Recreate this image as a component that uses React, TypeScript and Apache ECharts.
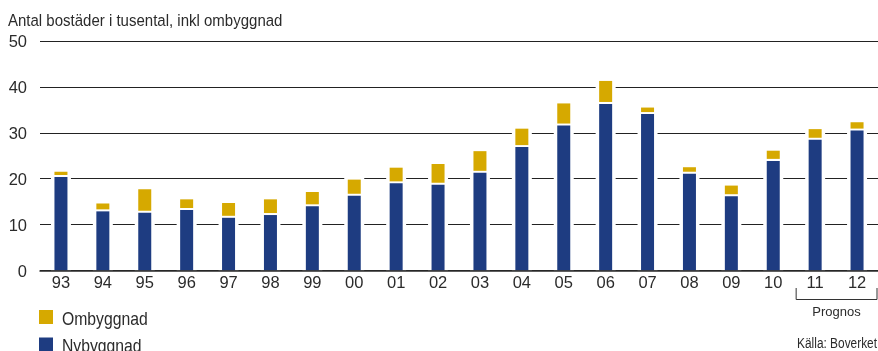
import React, { useEffect, useRef } from "react";
import * as echarts from "echarts";

// Färdigställda bostäder per år, tusental
const years = ["93", "94", "95", "96", "97", "98", "99", "00", "01", "02", "03", "04", "05", "06", "07", "08", "09", "10", "11", "12"];
const nybyggnad = [20.6, 13.1, 12.8, 13.4, 11.7, 12.3, 14.2, 16.5, 19.2, 18.9, 21.5, 27.1, 31.8, 36.5, 34.3, 21.3, 16.4, 24.1, 28.7, 30.7];
const ombyggnad = [0.9, 1.5, 4.9, 2.1, 3.0, 3.2, 2.9, 3.3, 3.2, 4.3, 4.5, 3.8, 4.6, 4.8, 1.2, 1.2, 2.1, 2.0, 2.1, 1.6];
const yTicks = [0, 10, 20, 30, 40, 50];
const prognosYears = ["11", "12"];

const NAVY = "#1e3c81";
const GOLD = "#d6a900";
const TEXT = "#2b2b2b";
const FONT = '"Liberation Sans", Arial, sans-serif';

const BAR_W = 13; // visible bar width
const HALO = 3.5; // white space kept around each bar
const SEAM = 1; // half of the white seam between the two segments

export default function App() {
  const ref = useRef<HTMLDivElement>(null);

  useEffect(() => {
    if (!ref.current) return;
    const chart = echarts.init(ref.current, undefined, { renderer: "svg" });

    const rows = years.map((_, i) => [i, nybyggnad[i], ombyggnad[i]]);

    // Nybyggnad: white halo behind the whole stack, then the navy segment
    const renderNy = (_params: any, api: any) => {
      const i = api.value(0);
      const n = api.value(1);
      const o = api.value(2);
      const [x, y0] = api.coord([i, 0]);
      const yN = api.coord([i, n])[1];
      const yT = api.coord([i, n + o])[1];
      return {
        type: "group",
        children: [
          {
            type: "rect",
            shape: { x: x - BAR_W / 2 - HALO, y: yT - 1.5, width: BAR_W + 2 * HALO, height: y0 - yT + 1.5 },
            style: { fill: "#ffffff" },
          },
          {
            type: "rect",
            shape: { x: x - BAR_W / 2, y: yN + SEAM, width: BAR_W, height: y0 - yN - SEAM },
            style: { fill: NAVY },
          },
        ],
      };
    };

    // Ombyggnad: gold segment stacked on top of Nybyggnad
    const renderOm = (_params: any, api: any) => {
      const i = api.value(0);
      const n = api.value(1);
      const o = api.value(2);
      const x = api.coord([i, 0])[0];
      const yN = api.coord([i, n])[1];
      const yT = api.coord([i, n + o])[1];
      return {
        type: "rect",
        shape: { x: x - BAR_W / 2, y: yT, width: BAR_W, height: Math.max(0, yN - SEAM - yT) },
        style: { fill: GOLD },
      };
    };

    chart.setOption({
      animation: false,
      textStyle: { fontFamily: FONT },
      grid: { left: 40, right: 0, top: 41, height: 229.5, containLabel: false },
      xAxis: {
        type: "category",
        data: years,
        z: 5,
        axisLine: { show: true, lineStyle: { color: "#2a2a2a", width: 1.5 } },
        axisTick: { show: false },
        axisLabel: { color: TEXT, fontSize: 16.5, fontFamily: FONT, margin: 3 },
      },
      yAxis: {
        type: "value",
        min: yTicks[0],
        max: yTicks[yTicks.length - 1],
        interval: 10,
        axisLine: { show: false },
        axisTick: { show: false },
        axisLabel: { color: TEXT, fontSize: 16.5, fontFamily: FONT, margin: 13 },
        splitLine: { show: true, lineStyle: { color: "#222", width: 1 } },
      },
      series: [
        {
          name: "Nybyggnad",
          type: "custom",
          data: rows,
          encode: { x: 0, y: 1 },
          itemStyle: { color: NAVY },
          renderItem: renderNy,
        },
        {
          name: "Ombyggnad",
          type: "custom",
          data: rows,
          encode: { x: 0, y: 1 },
          itemStyle: { color: GOLD },
          renderItem: renderOm,
        },
      ],
    });

    // Title, legend, forecast bracket and source, positioned from the axis scale
    const half = 20;
    const x11 = chart.convertToPixel({ xAxisIndex: 0 }, prognosYears[0]) as number;
    const x12 = chart.convertToPixel({ xAxisIndex: 0 }, prognosYears[1]) as number;
    const bl = x11 - half + 1;
    const br = Math.min(x12 + half, 877);
    chart.setOption({
      graphic: [
        {
          type: "text",
          x: 8,
          y: 20.5,
          scaleX: 0.91,
          style: {
            text: "Antal bostäder i tusental, inkl ombyggnad",
            fill: TEXT,
            fontSize: 16.5,
            fontFamily: FONT,
            verticalAlign: "middle",
          },
        },
        { type: "rect", shape: { x: 39, y: 310, width: 14, height: 14 }, style: { fill: GOLD } },
        {
          type: "text",
          x: 62,
          y: 319,
          scaleX: 0.9,
          style: { text: "Ombyggnad", fill: TEXT, fontSize: 17.5, fontFamily: FONT, verticalAlign: "middle" },
        },
        { type: "rect", shape: { x: 39, y: 337.5, width: 14, height: 14 }, style: { fill: NAVY } },
        {
          type: "text",
          x: 62,
          y: 346.5,
          scaleX: 0.9,
          style: { text: "Nybyggnad", fill: TEXT, fontSize: 17.5, fontFamily: FONT, verticalAlign: "middle" },
        },
        {
          type: "polyline",
          shape: { points: [[bl, 288], [bl, 299.5], [br, 299.5], [br, 288]] },
          style: { stroke: "#333", lineWidth: 1, fill: "none" },
        },
        {
          type: "text",
          x: (bl + br) / 2,
          y: 311,
          style: { text: "Prognos", fill: TEXT, fontSize: 13, fontFamily: FONT, align: "center", verticalAlign: "middle" },
        },
        {
          type: "text",
          x: 877,
          y: 343.5,
          scaleX: 0.82,
          style: { text: "Källa: Boverket", fill: TEXT, fontSize: 14.5, fontFamily: FONT, align: "right", verticalAlign: "middle" },
        },
      ],
    });

    return () => chart.dispose();
  }, []);

  return <div ref={ref} style={{ position: "fixed", left: 0, top: 0, width: 878, height: 351 }} />;
}
